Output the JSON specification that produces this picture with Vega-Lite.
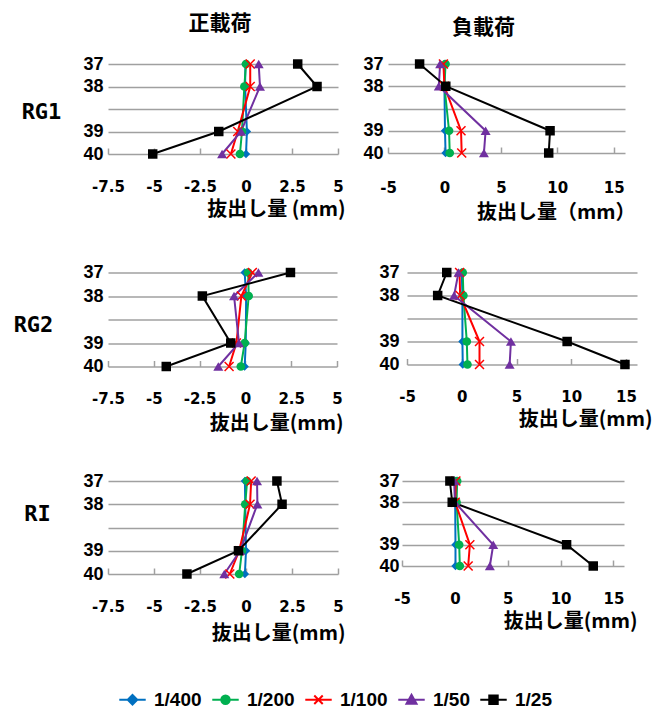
{
  "$schema": "https://vega.github.io/schema/vega-lite/v6.json",
  "padding": {"left": 13, "top": 13, "right": 0, "bottom": 0},
  "background": "white",
  "config": {
    "view": {"stroke": null},
    "axis": {"labelFont": "Liberation Sans", "labelFontWeight": "bold", "labelColor": "#000", "titleFont": "Noto Sans CJK JP", "titleFontWeight": "bold", "titleColor": "#000"},
    "axisX": {"grid": false, "domain": false, "ticks": true, "tickSize": -6, "tickWidth": 1.5, "tickColor": "#a0a0a0", "labelFont": "DejaVu Sans", "labelFontSize": 15, "labelFlush": false, "labelOverlap": false, "titleFontSize": 20, "titleAlign": "right", "titleAnchor": "end", "titleBaseline": "middle"},
    "axisY": {"grid": true, "gridColor": "#a0a0a0", "gridWidth": 1.5, "domain": false, "ticks": false, "labelFontSize": 18, "labelPadding": 5, "titleAngle": 0, "titleFont": "DejaVu Sans Mono", "titleFontSize": 22, "titleAlign": "center", "titleBaseline": "middle"},
    "title": {"font": "Noto Sans CJK JP", "fontSize": 21, "fontWeight": "bold", "color": "#000", "frame": "group", "anchor": "middle", "baseline": "middle"}
  },
  "data": {"values": [
    {"specimen":"RG1","load":"正","series":"1/400","level":"37","value":-0.03},
    {"specimen":"RG1","load":"正","series":"1/400","level":"38","value":-0.05},
    {"specimen":"RG1","load":"正","series":"1/400","level":"39","value":0.05},
    {"specimen":"RG1","load":"正","series":"1/400","level":"40","value":0.0},
    {"specimen":"RG1","load":"正","series":"1/200","level":"37","value":0.0},
    {"specimen":"RG1","load":"正","series":"1/200","level":"38","value":-0.09},
    {"specimen":"RG1","load":"正","series":"1/200","level":"39","value":-0.22},
    {"specimen":"RG1","load":"正","series":"1/200","level":"40","value":-0.33},
    {"specimen":"RG1","load":"正","series":"1/100","level":"37","value":0.23},
    {"specimen":"RG1","load":"正","series":"1/100","level":"38","value":0.23},
    {"specimen":"RG1","load":"正","series":"1/100","level":"39","value":-0.45},
    {"specimen":"RG1","load":"正","series":"1/100","level":"40","value":-0.82},
    {"specimen":"RG1","load":"正","series":"1/50","level":"37","value":0.69},
    {"specimen":"RG1","load":"正","series":"1/50","level":"38","value":0.76},
    {"specimen":"RG1","load":"正","series":"1/50","level":"39","value":-0.27},
    {"specimen":"RG1","load":"正","series":"1/50","level":"40","value":-1.3},
    {"specimen":"RG1","load":"正","series":"1/25","level":"37","value":2.81},
    {"specimen":"RG1","load":"正","series":"1/25","level":"38","value":3.86},
    {"specimen":"RG1","load":"正","series":"1/25","level":"39","value":-1.48},
    {"specimen":"RG1","load":"正","series":"1/25","level":"40","value":-5.07},

    {"specimen":"RG1","load":"負","series":"1/400","level":"37","value":0.0},
    {"specimen":"RG1","load":"負","series":"1/400","level":"38","value":0.0},
    {"specimen":"RG1","load":"負","series":"1/400","level":"39","value":0.05},
    {"specimen":"RG1","load":"負","series":"1/400","level":"40","value":0.1},
    {"specimen":"RG1","load":"負","series":"1/200","level":"37","value":0.1},
    {"specimen":"RG1","load":"負","series":"1/200","level":"38","value":0.0},
    {"specimen":"RG1","load":"負","series":"1/200","level":"39","value":0.41},
    {"specimen":"RG1","load":"負","series":"1/200","level":"40","value":0.47},
    {"specimen":"RG1","load":"負","series":"1/100","level":"37","value":-0.09},
    {"specimen":"RG1","load":"負","series":"1/100","level":"38","value":0.0},
    {"specimen":"RG1","load":"負","series":"1/100","level":"39","value":1.47},
    {"specimen":"RG1","load":"負","series":"1/100","level":"40","value":1.53},
    {"specimen":"RG1","load":"負","series":"1/50","level":"37","value":-0.38},
    {"specimen":"RG1","load":"負","series":"1/50","level":"38","value":-0.5},
    {"specimen":"RG1","load":"負","series":"1/50","level":"39","value":3.65},
    {"specimen":"RG1","load":"負","series":"1/50","level":"40","value":3.5},
    {"specimen":"RG1","load":"負","series":"1/25","level":"37","value":-2.2},
    {"specimen":"RG1","load":"負","series":"1/25","level":"38","value":0.12},
    {"specimen":"RG1","load":"負","series":"1/25","level":"39","value":9.36},
    {"specimen":"RG1","load":"負","series":"1/25","level":"40","value":9.24},

    {"specimen":"RG2","load":"正","series":"1/400","level":"37","value":-0.04},
    {"specimen":"RG2","load":"正","series":"1/400","level":"38","value":0.04},
    {"specimen":"RG2","load":"正","series":"1/400","level":"39","value":0.02},
    {"specimen":"RG2","load":"正","series":"1/400","level":"40","value":-0.04},
    {"specimen":"RG2","load":"正","series":"1/200","level":"37","value":0.15},
    {"specimen":"RG2","load":"正","series":"1/200","level":"38","value":0.18},
    {"specimen":"RG2","load":"正","series":"1/200","level":"39","value":-0.04},
    {"specimen":"RG2","load":"正","series":"1/200","level":"40","value":-0.25},
    {"specimen":"RG2","load":"正","series":"1/100","level":"37","value":0.38},
    {"specimen":"RG2","load":"正","series":"1/100","level":"38","value":-0.22},
    {"specimen":"RG2","load":"正","series":"1/100","level":"39","value":-0.49},
    {"specimen":"RG2","load":"正","series":"1/100","level":"40","value":-0.89},
    {"specimen":"RG2","load":"正","series":"1/50","level":"37","value":0.71},
    {"specimen":"RG2","load":"正","series":"1/50","level":"38","value":-0.62},
    {"specimen":"RG2","load":"正","series":"1/50","level":"39","value":-0.35},
    {"specimen":"RG2","load":"正","series":"1/50","level":"40","value":-1.48},
    {"specimen":"RG2","load":"正","series":"1/25","level":"37","value":2.46},
    {"specimen":"RG2","load":"正","series":"1/25","level":"38","value":-2.35},
    {"specimen":"RG2","load":"正","series":"1/25","level":"39","value":-0.8},
    {"specimen":"RG2","load":"正","series":"1/25","level":"40","value":-4.32},

    {"specimen":"RG2","load":"負","series":"1/400","level":"37","value":0.0},
    {"specimen":"RG2","load":"負","series":"1/400","level":"38","value":0.06},
    {"specimen":"RG2","load":"負","series":"1/400","level":"39","value":0.06},
    {"specimen":"RG2","load":"負","series":"1/400","level":"40","value":0.09},
    {"specimen":"RG2","load":"負","series":"1/200","level":"37","value":0.09},
    {"specimen":"RG2","load":"負","series":"1/200","level":"38","value":0.15},
    {"specimen":"RG2","load":"負","series":"1/200","level":"39","value":0.46},
    {"specimen":"RG2","load":"負","series":"1/200","level":"40","value":0.52},
    {"specimen":"RG2","load":"負","series":"1/100","level":"37","value":-0.2},
    {"specimen":"RG2","load":"負","series":"1/100","level":"38","value":-0.15},
    {"specimen":"RG2","load":"負","series":"1/100","level":"39","value":1.62},
    {"specimen":"RG2","load":"負","series":"1/100","level":"40","value":1.62},
    {"specimen":"RG2","load":"負","series":"1/50","level":"37","value":-0.3},
    {"specimen":"RG2","load":"負","series":"1/50","level":"38","value":-0.7},
    {"specimen":"RG2","load":"負","series":"1/50","level":"39","value":4.49},
    {"specimen":"RG2","load":"負","series":"1/50","level":"40","value":4.37},
    {"specimen":"RG2","load":"負","series":"1/25","level":"37","value":-1.37},
    {"specimen":"RG2","load":"負","series":"1/25","level":"38","value":-2.2},
    {"specimen":"RG2","load":"負","series":"1/25","level":"39","value":9.62},
    {"specimen":"RG2","load":"負","series":"1/25","level":"40","value":14.9},

    {"specimen":"RI","load":"正","series":"1/400","level":"37","value":-0.06},
    {"specimen":"RI","load":"正","series":"1/400","level":"38","value":-0.04},
    {"specimen":"RI","load":"正","series":"1/400","level":"39","value":0.0},
    {"specimen":"RI","load":"正","series":"1/400","level":"40","value":-0.06},
    {"specimen":"RI","load":"正","series":"1/200","level":"37","value":0.06},
    {"specimen":"RI","load":"正","series":"1/200","level":"38","value":-0.04},
    {"specimen":"RI","load":"正","series":"1/200","level":"39","value":-0.22},
    {"specimen":"RI","load":"正","series":"1/200","level":"40","value":-0.37},
    {"specimen":"RI","load":"正","series":"1/100","level":"37","value":0.28},
    {"specimen":"RI","load":"正","series":"1/100","level":"38","value":0.22},
    {"specimen":"RI","load":"正","series":"1/100","level":"39","value":-0.37},
    {"specimen":"RI","load":"正","series":"1/100","level":"40","value":-0.88},
    {"specimen":"RI","load":"正","series":"1/50","level":"37","value":0.6},
    {"specimen":"RI","load":"正","series":"1/50","level":"38","value":0.62},
    {"specimen":"RI","load":"正","series":"1/50","level":"39","value":-0.32},
    {"specimen":"RI","load":"正","series":"1/50","level":"40","value":-1.18},
    {"specimen":"RI","load":"正","series":"1/25","level":"37","value":1.68},
    {"specimen":"RI","load":"正","series":"1/25","level":"38","value":1.96},
    {"specimen":"RI","load":"正","series":"1/25","level":"39","value":-0.41},
    {"specimen":"RI","load":"正","series":"1/25","level":"40","value":-3.21},

    {"specimen":"RI","load":"負","series":"1/400","level":"37","value":0.1},
    {"specimen":"RI","load":"負","series":"1/400","level":"38","value":0.03},
    {"specimen":"RI","load":"負","series":"1/400","level":"39","value":0.06},
    {"specimen":"RI","load":"負","series":"1/400","level":"40","value":0.06},
    {"specimen":"RI","load":"負","series":"1/200","level":"37","value":0.22},
    {"specimen":"RI","load":"負","series":"1/200","level":"38","value":0.16},
    {"specimen":"RI","load":"負","series":"1/200","level":"39","value":0.41},
    {"specimen":"RI","load":"負","series":"1/200","level":"40","value":0.47},
    {"specimen":"RI","load":"負","series":"1/100","level":"37","value":0.1},
    {"specimen":"RI","load":"負","series":"1/100","level":"38","value":0.03},
    {"specimen":"RI","load":"負","series":"1/100","level":"39","value":1.42},
    {"specimen":"RI","load":"負","series":"1/100","level":"40","value":1.26},
    {"specimen":"RI","load":"負","series":"1/50","level":"37","value":-0.06},
    {"specimen":"RI","load":"負","series":"1/50","level":"38","value":0.0},
    {"specimen":"RI","load":"負","series":"1/50","level":"39","value":3.63},
    {"specimen":"RI","load":"負","series":"1/50","level":"40","value":3.31},
    {"specimen":"RI","load":"負","series":"1/25","level":"37","value":-0.47},
    {"specimen":"RI","load":"負","series":"1/25","level":"38","value":-0.25},
    {"specimen":"RI","load":"負","series":"1/25","level":"39","value":10.57},
    {"specimen":"RI","load":"負","series":"1/25","level":"40","value":13.09}
  ]},
  "spacing": 208.5,
  "bounds": "flush",
  "vconcat": [
    {
      "spacing": 50,
      "bounds": "flush",
      "hconcat": [
        {
          "width": 230, "height": 90,
          "title": {"text": "正載荷", "dx": -3, "offset": 21},
          "transform": [{"filter": "datum.specimen == 'RG1' && datum.load == '正'"}],
          "encoding": {
            "x": {"field": "value", "type": "quantitative", "scale": {"domain": [-7.5, 5], "nice": false, "zero": false}, "axis": {"values": [-7.5, -5, -2.5, 0, 2.5, 5], "labelExpr": "datum.value + ''", "labelPadding": 31, "title": "抜出し量 (mm)", "titleX": 237, "titleY": 55}},
            "y": {"field": "level", "type": "ordinal", "scale": {"type": "point", "domain": ["37", "38", "-", "39", "40"], "padding": 0}, "axis": {"labelExpr": "datum.value == '-' ? '' : datum.label", "title": "RG1", "titleX": -67, "titleY": 47}},
            "color": {"field": "series", "type": "nominal", "scale": {"domain": ["1/400", "1/200", "1/100", "1/50", "1/25"], "range": ["#0070C0", "#00B050", "#FF0000", "#7030A0", "#000000"]},
              "legend": {"orient": "none", "legendX": 10, "legendY": 621, "direction": "horizontal", "columns": 5, "title": null, "symbolSize": 700, "symbolStrokeWidth": 2, "labelFont": "Liberation Sans", "labelFontSize": 19, "labelFontWeight": "bold", "labelColor": "#000", "labelOffset": 7, "columnPadding": 6, "padding": 0,
                "encode": {"symbols": {"update": {
                  "shape": {"signal": "datum.value === '1/400' ? 'M-1,0H1M0,-0.36L0.36,0L0,0.36L-0.36,0Z' : datum.value === '1/200' ? 'M-1,0H1M-0.32,0A0.32,0.32,0,1,0,0.32,0A0.32,0.32,0,1,0,-0.32,0Z' : datum.value === '1/100' ? 'M-1,0H1M-0.32,-0.32L0.32,0.32M-0.32,0.32L0.32,-0.32' : datum.value === '1/50' ? 'M-1,0H1M0,-0.38L0.38,0.3L-0.38,0.3Z' : 'M-1,0H1M-0.32,-0.32H0.32V0.32H-0.32Z'"},
                  "fill": {"scale": "color", "field": "value"},
                  "stroke": {"scale": "color", "field": "value"},
                  "strokeWidth": {"value": 2},
                  "size": {"value": 700},
                  "opacity": {"value": 1}
                }}}}}
          },
          "layer": [
            {"mark": {"type": "line", "strokeWidth": 2}, "encoding": {"order": {"field": "level", "type": "ordinal"}}},
            {"transform": [{"filter": "datum.series == '1/400'"}], "mark": {"type": "point", "shape": "diamond", "filled": true, "opacity": 1, "size": 70}},
            {"transform": [{"filter": "datum.series == '1/200'"}], "mark": {"type": "point", "shape": "circle", "filled": true, "opacity": 1, "size": 75}},
            {"transform": [{"filter": "datum.series == '1/100'"}], "mark": {"type": "point", "shape": "M-1,-1L1,1M-1,1L1,-1", "filled": false, "opacity": 1, "size": 80, "strokeWidth": 1.5}},
            {"transform": [{"filter": "datum.series == '1/50'"}], "mark": {"type": "point", "shape": "triangle-up", "filled": true, "opacity": 1, "size": 100}},
            {"transform": [{"filter": "datum.series == '1/25'"}], "mark": {"type": "point", "shape": "square", "filled": true, "opacity": 1, "size": 90}}
          ]
        },
        {
          "width": 237, "height": 89,
          "title": {"text": "負載荷", "dx": -23, "offset": 17},
          "transform": [{"filter": "datum.specimen == 'RG1' && datum.load == '負'"}],
          "encoding": {
            "x": {"field": "value", "type": "quantitative", "scale": {"domain": [-5, 16], "nice": false, "zero": false}, "axis": {"values": [-5, 0, 5, 10, 15], "labelExpr": "datum.value + ''", "labelPadding": 33, "title": "抜出し量（mm）", "titleX": 247, "titleY": 59}},
            "y": {"field": "level", "type": "ordinal", "scale": {"type": "point", "domain": ["37", "38", "-", "39", "40"], "padding": 0}, "axis": {"labelExpr": "datum.value == '-' ? '' : datum.label", "title": null}},
            "color": {"field": "series", "type": "nominal", "scale": {"domain": ["1/400", "1/200", "1/100", "1/50", "1/25"], "range": ["#0070C0", "#00B050", "#FF0000", "#7030A0", "#000000"]}, "legend": null}
          },
          "layer": [
            {"mark": {"type": "line", "strokeWidth": 2}, "encoding": {"order": {"field": "level", "type": "ordinal"}}},
            {"transform": [{"filter": "datum.series == '1/400'"}], "mark": {"type": "point", "shape": "diamond", "filled": true, "opacity": 1, "size": 70}},
            {"transform": [{"filter": "datum.series == '1/200'"}], "mark": {"type": "point", "shape": "circle", "filled": true, "opacity": 1, "size": 75}},
            {"transform": [{"filter": "datum.series == '1/100'"}], "mark": {"type": "point", "shape": "M-1,-1L1,1M-1,1L1,-1", "filled": false, "opacity": 1, "size": 80, "strokeWidth": 1.5}},
            {"transform": [{"filter": "datum.series == '1/50'"}], "mark": {"type": "point", "shape": "triangle-up", "filled": true, "opacity": 1, "size": 100}},
            {"transform": [{"filter": "datum.series == '1/25'"}], "mark": {"type": "point", "shape": "square", "filled": true, "opacity": 1, "size": 90}}
          ]
        }
      ]
    },
    {
      "spacing": 70,
      "bounds": "flush",
      "hconcat": [
        {
          "width": 229, "height": 94,
          "transform": [{"filter": "datum.specimen == 'RG2' && datum.load == '正'"}],
          "encoding": {
            "x": {"field": "value", "type": "quantitative", "scale": {"domain": [-7.5, 5], "nice": false, "zero": false}, "axis": {"values": [-7.5, -5, -2.5, 0, 2.5, 5], "labelExpr": "datum.value + ''", "labelPadding": 31, "title": "抜出し量(mm)", "titleX": 235, "titleY": 57}},
            "y": {"field": "level", "type": "ordinal", "scale": {"type": "point", "domain": ["37", "38", "-", "39", "40"], "padding": 0}, "axis": {"labelExpr": "datum.value == '-' ? '' : datum.label", "title": "RG2", "titleX": -75, "titleY": 52}},
            "color": {"field": "series", "type": "nominal", "scale": {"domain": ["1/400", "1/200", "1/100", "1/50", "1/25"], "range": ["#0070C0", "#00B050", "#FF0000", "#7030A0", "#000000"]}, "legend": null}
          },
          "layer": [
            {"mark": {"type": "line", "strokeWidth": 2}, "encoding": {"order": {"field": "level", "type": "ordinal"}}},
            {"transform": [{"filter": "datum.series == '1/400'"}], "mark": {"type": "point", "shape": "diamond", "filled": true, "opacity": 1, "size": 70}},
            {"transform": [{"filter": "datum.series == '1/200'"}], "mark": {"type": "point", "shape": "circle", "filled": true, "opacity": 1, "size": 75}},
            {"transform": [{"filter": "datum.series == '1/100'"}], "mark": {"type": "point", "shape": "M-1,-1L1,1M-1,1L1,-1", "filled": false, "opacity": 1, "size": 80, "strokeWidth": 1.5}},
            {"transform": [{"filter": "datum.series == '1/50'"}], "mark": {"type": "point", "shape": "triangle-up", "filled": true, "opacity": 1, "size": 100}},
            {"transform": [{"filter": "datum.series == '1/25'"}], "mark": {"type": "point", "shape": "square", "filled": true, "opacity": 1, "size": 90}}
          ]
        },
        {
          "width": 230, "height": 92,
          "transform": [{"filter": "datum.specimen == 'RG2' && datum.load == '負'"}],
          "encoding": {
            "x": {"field": "value", "type": "quantitative", "scale": {"domain": [-5, 16], "nice": false, "zero": false}, "axis": {"values": [-5, 0, 5, 10, 15], "labelExpr": "datum.value + ''", "labelPadding": 31, "title": "抜出し量(mm)", "titleX": 245, "titleY": 55}},
            "y": {"field": "level", "type": "ordinal", "scale": {"type": "point", "domain": ["37", "38", "-", "39", "40"], "padding": 0}, "axis": {"labelExpr": "datum.value == '-' ? '' : datum.label", "title": null, "labelPadding": 8}},
            "color": {"field": "series", "type": "nominal", "scale": {"domain": ["1/400", "1/200", "1/100", "1/50", "1/25"], "range": ["#0070C0", "#00B050", "#FF0000", "#7030A0", "#000000"]}, "legend": null}
          },
          "layer": [
            {"mark": {"type": "line", "strokeWidth": 2}, "encoding": {"order": {"field": "level", "type": "ordinal"}}},
            {"transform": [{"filter": "datum.series == '1/400'"}], "mark": {"type": "point", "shape": "diamond", "filled": true, "opacity": 1, "size": 70}},
            {"transform": [{"filter": "datum.series == '1/200'"}], "mark": {"type": "point", "shape": "circle", "filled": true, "opacity": 1, "size": 75}},
            {"transform": [{"filter": "datum.series == '1/100'"}], "mark": {"type": "point", "shape": "M-1,-1L1,1M-1,1L1,-1", "filled": false, "opacity": 1, "size": 80, "strokeWidth": 1.5}},
            {"transform": [{"filter": "datum.series == '1/50'"}], "mark": {"type": "point", "shape": "triangle-up", "filled": true, "opacity": 1, "size": 100}},
            {"transform": [{"filter": "datum.series == '1/25'"}], "mark": {"type": "point", "shape": "square", "filled": true, "opacity": 1, "size": 90}}
          ]
        }
      ]
    },
    {
      "spacing": 64,
      "bounds": "flush",
      "hconcat": [
        {
          "width": 230, "height": 93,
          "transform": [{"filter": "datum.specimen == 'RI' && datum.load == '正'"}],
          "encoding": {
            "x": {"field": "value", "type": "quantitative", "scale": {"domain": [-7.5, 5], "nice": false, "zero": false}, "axis": {"values": [-7.5, -5, -2.5, 0, 2.5, 5], "labelExpr": "datum.value + ''", "labelPadding": 31, "title": "抜出し量(mm)", "titleX": 237, "titleY": 59}},
            "y": {"field": "level", "type": "ordinal", "scale": {"type": "point", "domain": ["37", "38", "-", "39", "40"], "padding": 0}, "axis": {"labelExpr": "datum.value == '-' ? '' : datum.label", "title": "RI", "titleX": -71, "titleY": 32}},
            "color": {"field": "series", "type": "nominal", "scale": {"domain": ["1/400", "1/200", "1/100", "1/50", "1/25"], "range": ["#0070C0", "#00B050", "#FF0000", "#7030A0", "#000000"]}, "legend": null}
          },
          "layer": [
            {"mark": {"type": "line", "strokeWidth": 2}, "encoding": {"order": {"field": "level", "type": "ordinal"}}},
            {"transform": [{"filter": "datum.series == '1/400'"}], "mark": {"type": "point", "shape": "diamond", "filled": true, "opacity": 1, "size": 70}},
            {"transform": [{"filter": "datum.series == '1/200'"}], "mark": {"type": "point", "shape": "circle", "filled": true, "opacity": 1, "size": 75}},
            {"transform": [{"filter": "datum.series == '1/100'"}], "mark": {"type": "point", "shape": "M-1,-1L1,1M-1,1L1,-1", "filled": false, "opacity": 1, "size": 80, "strokeWidth": 1.5}},
            {"transform": [{"filter": "datum.series == '1/50'"}], "mark": {"type": "point", "shape": "triangle-up", "filled": true, "opacity": 1, "size": 100}},
            {"transform": [{"filter": "datum.series == '1/25'"}], "mark": {"type": "point", "shape": "square", "filled": true, "opacity": 1, "size": 90}}
          ]
        },
        {
          "width": 222, "height": 85,
          "transform": [{"filter": "datum.specimen == 'RI' && datum.load == '負'"}],
          "encoding": {
            "x": {"field": "value", "type": "quantitative", "scale": {"domain": [-5, 16], "nice": false, "zero": false}, "axis": {"values": [-5, 0, 5, 10, 15], "labelExpr": "datum.value + ''", "labelPadding": 31, "title": "抜出し量(mm)", "titleX": 235, "titleY": 55}},
            "y": {"field": "level", "type": "ordinal", "scale": {"type": "point", "domain": ["37", "38", "-", "39", "40"], "padding": 0}, "axis": {"labelExpr": "datum.value == '-' ? '' : datum.label", "title": null, "labelPadding": 3}},
            "color": {"field": "series", "type": "nominal", "scale": {"domain": ["1/400", "1/200", "1/100", "1/50", "1/25"], "range": ["#0070C0", "#00B050", "#FF0000", "#7030A0", "#000000"]}, "legend": null}
          },
          "layer": [
            {"mark": {"type": "line", "strokeWidth": 2}, "encoding": {"order": {"field": "level", "type": "ordinal"}}},
            {"transform": [{"filter": "datum.series == '1/400'"}], "mark": {"type": "point", "shape": "diamond", "filled": true, "opacity": 1, "size": 70}},
            {"transform": [{"filter": "datum.series == '1/200'"}], "mark": {"type": "point", "shape": "circle", "filled": true, "opacity": 1, "size": 75}},
            {"transform": [{"filter": "datum.series == '1/100'"}], "mark": {"type": "point", "shape": "M-1,-1L1,1M-1,1L1,-1", "filled": false, "opacity": 1, "size": 80, "strokeWidth": 1.5}},
            {"transform": [{"filter": "datum.series == '1/50'"}], "mark": {"type": "point", "shape": "triangle-up", "filled": true, "opacity": 1, "size": 100}},
            {"transform": [{"filter": "datum.series == '1/25'"}], "mark": {"type": "point", "shape": "square", "filled": true, "opacity": 1, "size": 90}}
          ]
        }
      ]
    }
  ]
}
